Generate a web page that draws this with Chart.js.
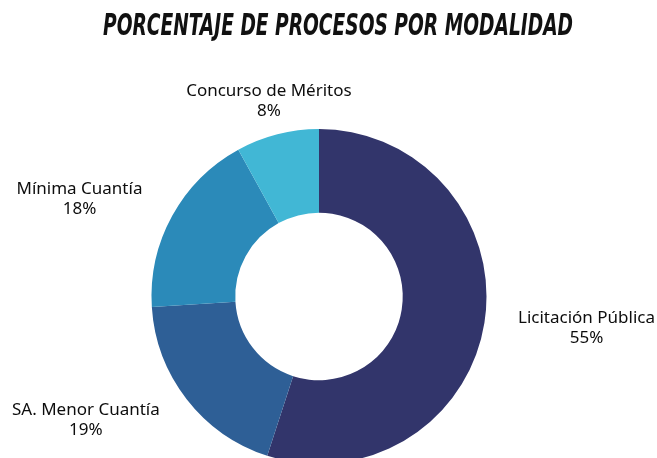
<!DOCTYPE html>
<html>
<head>
<meta charset="utf-8">
<script src="https://cdn.jsdelivr.net/npm/chart.js@4"></script>
<style>
html,body{margin:0;padding:0;background:#fff;overflow:hidden}
#wrap{position:absolute;left:0;top:0;width:657px;height:500px}
</style>
</head>
<body>
<div id="wrap"><canvas id="dona"></canvas></div>
<script>
// datos
const titulo="PORCENTAJE DE PROCESOS POR MODALIDAD";
const modalidades=["Licitación Pública","SA. Menor Cuantía","Mínima Cuantía","Concurso de Méritos"];
const porcentajes=[55,19,18,8];
const colores=["#32356b","#2e5f96","#2b8ab9","#41b7d5"];

// titulo condensado en cursiva
const tituloPlugin={
id:"tituloPlugin",
afterDraw(chart){
const ctx=chart.ctx;
ctx.save();
ctx.font="italic bold 30px 'DejaVu Sans Condensed','DejaVu Sans',sans-serif";
ctx.fillStyle="#111";
ctx.textBaseline="alphabetic";
ctx.textAlign="center";
const w=ctx.measureText(titulo).width;
const sx=470/w;
ctx.translate(338,35);
ctx.scale(sx,1);
ctx.fillText(titulo,0,0);
ctx.restore();
}
};

// etiquetas fuera de cada sector
const etiquetasPlugin={
id:"etiquetasPlugin",
afterDraw(chart){
const ctx=chart.ctx;
const meta=chart.getDatasetMeta(0);
const total=porcentajes.reduce((a,b)=>a+b,0);
ctx.save();
ctx.font="17px 'Noto Sans',sans-serif";
ctx.fillStyle="#0d0d0d";
ctx.textBaseline="middle";
meta.data.forEach((arc,i)=>{
const p=arc.getProps(["x","y","startAngle","endAngle","outerRadius"],true);
const a=(p.startAngle+p.endAngle)/2;
const r=p.outerRadius+34;
const x=p.x+Math.cos(a)*r;
const y=p.y+Math.sin(a)*r;
const c=Math.cos(a);
ctx.textAlign=c>0.4?"left":(c<-0.4?"right":"center");
const pct=Math.round(porcentajes[i]/total*100)+"%";
if(ctx.textAlign=="center"){
ctx.fillText(modalidades[i],x,y-10);
ctx.fillText(pct,x,y+10);
}else{
const w1=ctx.measureText(modalidades[i]).width;
const w2=ctx.measureText(pct).width;
let x2=x;
if(ctx.textAlign=="left") x2=x+(w1-w2)/2;
else x2=x-(w1-w2)/2;
ctx.fillText(modalidades[i],x,y-10);
ctx.fillText(pct,x2,y+10);
}
});
ctx.restore();
}
};

new Chart(document.getElementById("dona"),{
type:"doughnut",
data:{labels:modalidades,
datasets:[{data:porcentajes,backgroundColor:colores,borderWidth:0,hoverOffset:0}]},
options:{
responsive:true,
maintainAspectRatio:false,
animation:false,
cutout:"50%",
layout:{padding:{left:151.5,right:170.5,top:129,bottom:36}},
plugins:{legend:{display:false},tooltip:{enabled:false}}
},
plugins:[tituloPlugin,etiquetasPlugin]
});
</script>
</body>
</html>
